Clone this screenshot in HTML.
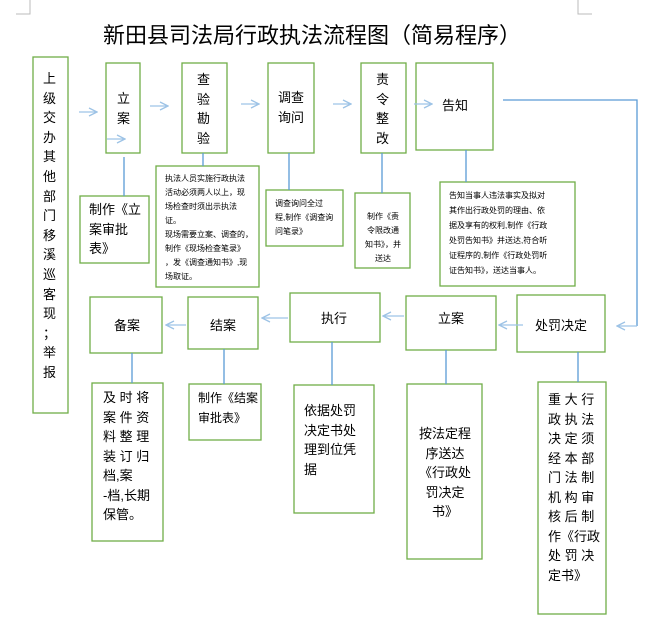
<!DOCTYPE html>
<html><head><meta charset="utf-8"><style>
body{margin:0;background:#fff;}
#c{position:relative;width:661px;height:627px;overflow:hidden;font-family:"Liberation Sans","Noto Sans CJK SC",sans-serif;color:#000;}
.t{position:absolute;white-space:nowrap;}
.b{font-size:13px;line-height:19.5px;}
.s{font-size:8px;line-height:14px;}
svg{position:absolute;left:0;top:0;}
</style></head><body><div id="c">
<svg width="661" height="627">
<defs><marker id="a" markerWidth="10" markerHeight="10" refX="9" refY="5" orient="auto" markerUnits="userSpaceOnUse"><path d="M1,1 L9,5 L1,9" fill="none" stroke="#9dc3e6" stroke-width="1.3"/></marker></defs>
<g fill="none" stroke="#70ad47" stroke-width="1.3">
<rect x="33" y="57" width="35" height="356"/>
<rect x="106" y="63" width="34" height="90"/>
<rect x="182" y="63" width="45" height="90"/>
<rect x="268" y="63" width="46" height="90"/>
<rect x="361" y="63" width="45" height="90"/>
<rect x="416" y="63" width="77" height="87"/>
<rect x="80" y="196" width="69" height="67"/>
<rect x="156" y="166" width="103" height="121"/>
<rect x="266" y="190" width="77" height="56"/>
<rect x="355" y="193" width="55" height="75"/>
<rect x="440" y="182" width="135" height="104"/>
<rect x="90" y="297" width="72" height="56"/>
<rect x="188" y="297" width="70" height="52"/>
<rect x="290" y="293" width="90" height="49"/>
<rect x="406" y="296" width="90" height="54"/>
<rect x="517" y="295" width="88" height="57"/>
<rect x="92" y="383" width="71" height="158"/>
<rect x="189" y="384" width="72" height="56"/>
<rect x="294" y="385" width="80" height="128"/>
<rect x="407" y="384" width="75" height="175"/>
<rect x="538" y="382" width="68" height="232"/>
</g>
<g stroke="#5b9bd5" stroke-width="1.3" fill="none">
<line x1="124" y1="157" x2="124" y2="196"/>
<line x1="203" y1="153" x2="203" y2="166"/>
<line x1="289" y1="153" x2="289" y2="190"/>
<line x1="382" y1="153" x2="382" y2="193"/>
<line x1="466" y1="150" x2="466" y2="182"/>
<line x1="132" y1="353" x2="132" y2="383"/>
<line x1="224" y1="349" x2="224" y2="384"/>
<line x1="332" y1="342" x2="332" y2="385"/>
<line x1="446" y1="350" x2="446" y2="384"/>
<line x1="578" y1="352" x2="578" y2="382"/>
<polyline points="503,100 637,100 637,326"/>
</g>
<g stroke="#9dc3e6" stroke-width="1.3" fill="none" marker-end="url(#a)">
<line x1="79" y1="112" x2="97" y2="112"/>
<line x1="107" y1="139" x2="125" y2="139"/>
<line x1="150" y1="106" x2="168" y2="106"/>
<line x1="241" y1="104" x2="259" y2="104"/>
<line x1="333" y1="104" x2="351" y2="104"/>
<line x1="414" y1="104" x2="432" y2="104"/>
<line x1="637" y1="326" x2="617" y2="326"/>
<line x1="523" y1="325" x2="499" y2="325"/>
<line x1="404" y1="316" x2="383" y2="316"/>
<line x1="288" y1="318" x2="262" y2="318"/>
<line x1="186" y1="325" x2="166" y2="325"/>
</g>
<g stroke="#bbb" stroke-width="1" fill="none">
<polyline points="30,0 30,14 16,14"/><polyline points="578,0 578,14 592,14"/>
</g>
</svg>
<div class="t" style="left:103px;top:18px;font-size:22px;">新田县司法局行政执法流程图（简易程序）</div>
<div class="t b" style="left:43px;top:69px;line-height:19.6px;">上<br>级<br>交<br>办<br>其<br>他<br>部<br>门<br>移<br>溪<br>巡<br>客<br>现<br>；<br>举<br>报</div>
<div class="t b" style="left:117px;top:89px;">立<br>案</div>
<div class="t b" style="left:197px;top:70px;">查<br>验<br>勘<br>验</div>
<div class="t b" style="left:278px;top:88px;">调查<br>询问</div>
<div class="t b" style="left:376px;top:70px;">责<br>令<br>整<br>改</div>
<div class="t b" style="left:442px;top:96px;">告知</div>
<div class="t b" style="left:89px;top:200px;">制作《立<br>案审批<br>表》</div>
<div class="t s" style="left:165px;top:172px;">执法人员实施行政执法<br>活动必须两人以上，现<br>场检查时须出示执法<br>证。<br>现场需要立案、调查的，<br>制作《现场检查笔录》<br>，发《调查通知书》,现<br>场取证。</div>
<div class="t s" style="left:275px;top:197px;">调查询问全过<br>程,制作《调查询<br>问笔录》</div>
<div class="t s" style="left:365px;top:210px;text-align:center;">制作《责<br>令限改通<br>知书》，并<br>送达</div>
<div class="t s" style="left:449px;top:188px;line-height:15px;">告知当事人违法事实及拟对<br>其作出行政处罚的理由、依<br>据及享有的权利,制作《行政<br>处罚告知书》并送达,符合听<br>证程序的,制作《行政处罚听<br>证告知书》，送达当事人。</div>
<div class="t b" style="left:114px;top:316px;">备案</div>
<div class="t b" style="left:210px;top:316px;">结案</div>
<div class="t b" style="left:321px;top:309px;">执行</div>
<div class="t b" style="left:438px;top:309px;">立案</div>
<div class="t b" style="left:535px;top:316px;">处罚决定</div>
<div class="t b" style="left:103px;top:388px;">及 时 将<br>案 件 资<br>料 整 理<br>装 订 归<br>档,案<br>-档,长期<br>保管。</div>
<div class="t b" style="left:198px;top:389px;font-size:12px;">制作《结案<br>审批表》</div>
<div class="t b" style="left:304px;top:401px;">依据处罚<br>决定书处<br>理到位凭<br>据</div>
<div class="t b" style="left:419px;top:424px;text-align:center;">按法定程<br>序送达<br>《行政处<br>罚决定<br>书》</div>
<div class="t b" style="left:548px;top:390px;">重 大 行<br>政 执 法<br>决 定 须<br>经 本 部<br>门 法 制<br>机 构 审<br>核 后 制<br>作《行政<br>处 罚 决<br>定书》</div>
</div></body></html>
